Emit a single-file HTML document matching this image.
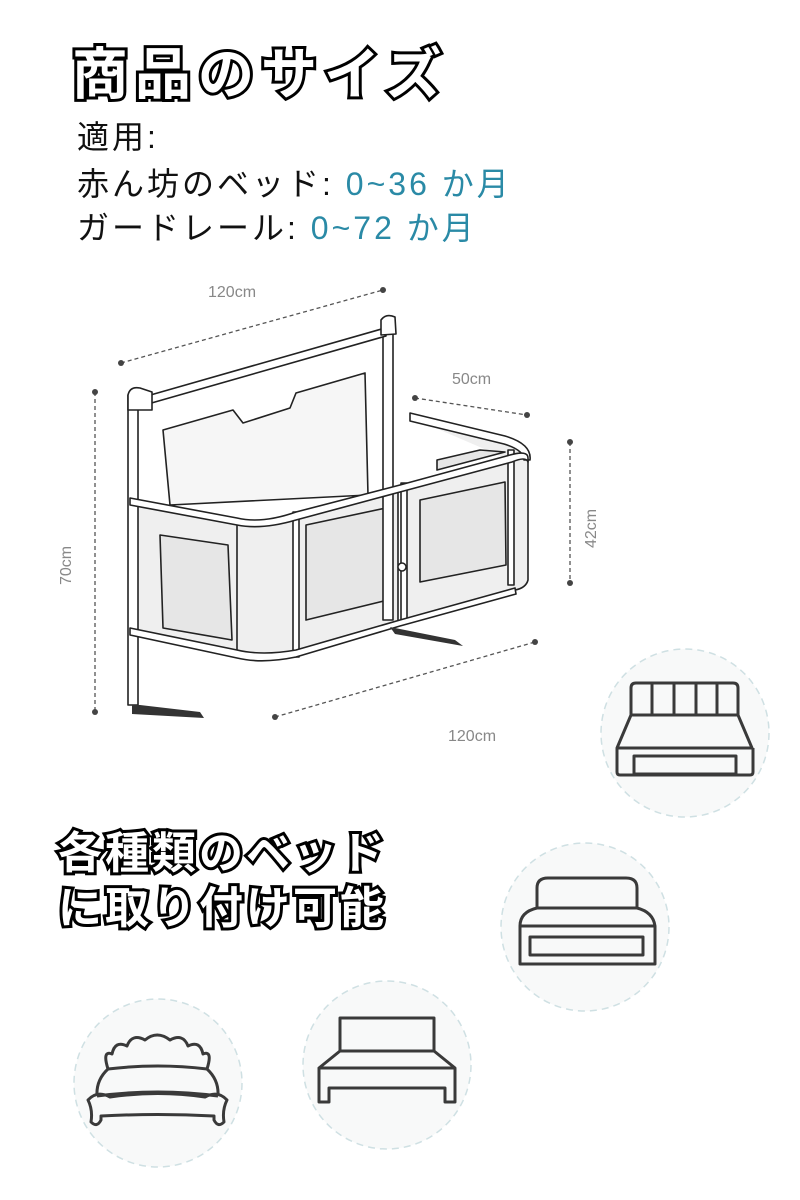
<!DOCTYPE html>
<html><head><meta charset="utf-8"><style>
html,body{margin:0;padding:0;background:#fff;}
body{width:800px;height:1200px;position:relative;overflow:hidden;font-family:"Liberation Sans","Noto Sans CJK JP",sans-serif;}
.t{position:absolute;white-space:nowrap;}
.big{font-weight:bold;color:#fff;-webkit-text-stroke:6px #000;paint-order:stroke fill;}
.info{font-size:32px;color:#111;letter-spacing:3px;}
.b{color:#2a8aa6;}
</style></head><body>
<div class="t big" style="left:72px;top:30px;font-size:56px;letter-spacing:7px;">商品のサイズ</div>
<div class="t info" style="left:77px;top:112px;">適用:</div>
<div class="t info" style="left:77px;top:159px;">赤ん坊のベッド: <span class="b">0~36 か月</span></div>
<div class="t info" style="left:77px;top:203px;">ガードレール: <span class="b">0~72 か月</span></div>
<div class="t big" style="left:58px;top:817px;font-size:44px;letter-spacing:3px;">各種類のベッド</div>
<div class="t big" style="left:58px;top:872px;font-size:44px;letter-spacing:3px;">に取り付け可能</div>

<svg width="800" height="1200" style="position:absolute;left:0;top:0" xmlns="http://www.w3.org/2000/svg">
<g font-family="Liberation Sans, sans-serif" font-size="16" fill="#888">
<text x="208" y="297">120cm</text>
<text x="452" y="384">50cm</text>
<text x="448" y="741">120cm</text>
<text transform="translate(71,585) rotate(-90)">70cm</text>
<text transform="translate(596,548) rotate(-90)">42cm</text>
</g>
<g stroke="#555" stroke-width="1.3" stroke-dasharray="4,3" fill="none">
<line x1="121" y1="363" x2="383" y2="290"/>
<line x1="95" y1="392" x2="95" y2="712"/>
<line x1="415" y1="398" x2="527" y2="415"/>
<line x1="570" y1="442" x2="570" y2="583"/>
<line x1="275" y1="717" x2="535" y2="642"/>
</g>
<g fill="#444">
<circle cx="121" cy="363" r="3"/><circle cx="383" cy="290" r="3"/>
<circle cx="95" cy="392" r="3"/><circle cx="95" cy="712" r="3"/>
<circle cx="415" cy="398" r="3"/><circle cx="527" cy="415" r="3"/>
<circle cx="570" cy="442" r="3"/><circle cx="570" cy="583" r="3"/>
<circle cx="275" cy="717" r="3"/><circle cx="535" cy="642" r="3"/>
</g>
<g stroke="#222" stroke-width="1.6" fill="#efefef" stroke-linejoin="round">
<path d="M163,430 L233,410 L243,423 L290,408 L296,393 L365,373 L368,495 L170,505 Z" fill="#f6f6f6"/>
<path d="M410,417 L505,440 Q530,447 528,460 L528,580 Q526,588 515,590 L405,620 L405,490 L510,460"/>
<path d="M130,500 L237,520 Q262,525 296,515 L398,488 L398,623 L296,655 Q262,662 237,655 L130,630 Z"/>
<path d="M160,535 L228,545 L232,640 L163,628 Z" fill="#e6e6e6"/>
<path d="M306,525 L386,508 L388,600 L306,620 Z" fill="#e6e6e6"/>
<path d="M420,500 L505,482 L506,565 L420,582 Z" fill="#e6e6e6"/>
<path d="M437,460 L480,450 L505,452 L437,470 Z" fill="#e6e6e6"/>
<path d="M237,520 L237,655 M296,515 L296,655" fill="none"/>
<rect x="128" y="395" width="10" height="310" fill="#fff"/>
<rect x="383" y="320" width="10" height="300" fill="#fff"/>
<rect x="401" y="483" width="6" height="140" fill="#fff"/>
<rect x="293" y="512" width="6" height="145" fill="#fff"/>
<rect x="508" y="450" width="6" height="135" fill="#fff"/>
<path d="M140,398 L385,328 L386,336 L141,406 Z" fill="#fff"/>
<path d="M410,413 L505,436 Q532,444 530,460 L524,460 Q524,450 504,444 L410,421 Z" fill="#fff"/>
<path d="M130,498 L237,518 Q262,524 296,512 L400,485 L510,455 Q528,450 528,458 L528,462 Q526,456 512,462 L400,492 L296,520 Q262,530 237,525 L130,505 Z" fill="#fff"/>
<path d="M130,628 L237,650 Q262,656 296,650 L400,620 L515,588 L516,594 L400,626 L296,657 Q262,664 237,658 L130,635 Z" fill="#fff"/>
<path d="M128,395 Q130,386 140,388 L152,392 L152,410 L128,410 Z" fill="#fff"/>
<path d="M381,320 Q386,313 395,317 L396,334 L381,335 Z" fill="#fff"/>
</g>
<g fill="#333">
<path d="M132,705 L140,705 L200,712 L204,718 L132,714 Z"/>
<path d="M390,627 L455,640 L463,646 L395,634 Z"/>
<circle cx="402" cy="567" r="4" fill="#fff" stroke="#222" stroke-width="1.5"/>
</g>
<g fill="#f8f9f9" stroke="#cfe0e3" stroke-width="1.5" stroke-dasharray="7,5">
<circle cx="685" cy="733" r="84"/>
<circle cx="585" cy="927" r="84"/>
<circle cx="387" cy="1065" r="84"/>
<circle cx="158" cy="1083" r="84"/>
</g>
<g fill="none" stroke="#3a3a3a" stroke-width="3" stroke-linejoin="round">
<path d="M631,715 L631,688 Q631,683 636,683 L733,683 Q738,683 738,688 L738,715"/>
<path d="M652,683 L652,715 M674,683 L674,715 M696,683 L696,715 M717,683 L717,715"/>
<path d="M631,715 L738,715 L752,748 L617,748 Z"/>
<path d="M617,748 L617,772 Q617,775 620,775 L750,775 Q753,775 753,772 L753,748"/>
<rect x="634" y="756" width="102" height="18"/>
<path d="M537,908 L537,888 Q537,878 548,878 L626,878 Q637,878 637,888 L637,908"/>
<path d="M520,926 Q520,912 537,908 L637,908 Q653,912 655,926 L655,964 L520,964 Z"/>
<line x1="520" y1="926" x2="655" y2="926"/>
<rect x="530" y="937" width="113" height="18"/>
<rect x="340" y="1018" width="94" height="33"/>
<path d="M340,1051 L319,1068 L455,1068 L434,1051"/>
<path d="M319,1068 L319,1102 L329,1102 L329,1088 L445,1088 L445,1102 L455,1102 L455,1068"/>
<path d="M108,1069 Q102,1050 112,1054 Q115,1040 127,1046 Q132,1033 145,1040 Q157,1030 170,1040 Q183,1033 188,1046 Q200,1040 203,1054 Q213,1050 207,1069"/>
<path d="M108,1069 Q158,1063 207,1069"/>
<path d="M108,1069 Q96,1080 97,1096 M207,1069 Q219,1080 218,1096"/>
<path d="M97,1096 Q158,1088 218,1096"/>
<path d="M88,1100 Q97,1090 110,1097 Q158,1090 205,1097 Q218,1090 227,1100 Q222,1110 224,1122 Q218,1128 214,1120 L214,1116 Q158,1113 101,1116 L101,1120 Q97,1128 91,1122 Q93,1110 88,1100 Z"/>
</g>
</svg>
</body></html>
